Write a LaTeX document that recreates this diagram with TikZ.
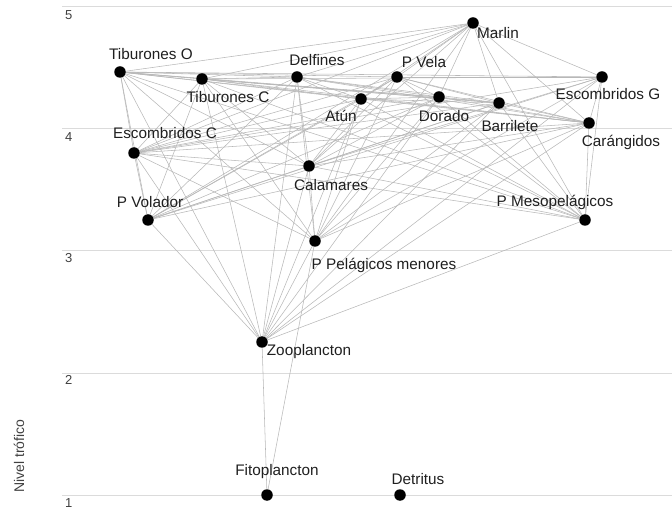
\documentclass[tikz,border=0pt]{standalone}
\usepackage{fontspec}
\setmainfont{Liberation Sans}
\usetikzlibrary{backgrounds}
\begin{document}
\begin{tikzpicture}[x=1pt,y=-1pt,
  dot/.style={circle,fill=black,inner sep=0pt,minimum size=11.5pt},
  lbl/.style={font=\fontsize{15.3}{18}\selectfont,text=black!88,inner sep=0pt},
  tick/.style={font=\fontsize{13}{15}\selectfont,text=black!75,inner sep=0pt,anchor=west},
  gridline/.style={draw=black!14,line width=0.8pt},
  link/.style={draw=black!28,line width=0.55pt}]
\useasboundingbox (0,0) rectangle (672,510);
% dots
\node[dot] (tibo) at (120,72) {};
\node[dot] (tibc) at (202,79) {};
\node[dot] (delf) at (297,77) {};
\node[dot] (marl) at (473,23) {};
\node[dot] (pvel) at (397,77) {};
\node[dot] (atun) at (361,99) {};
\node[dot] (dora) at (439,97) {};
\node[dot] (barr) at (499,103) {};
\node[dot] (escg) at (602,77) {};
\node[dot] (cara) at (589,123) {};
\node[dot] (escc) at (134,153) {};
\node[dot] (cala) at (309,166) {};
\node[dot] (pvol) at (148,220) {};
\node[dot] (pmes) at (585,220) {};
\node[dot] (ppel) at (315,241) {};
\node[dot] (zoo) at (262,342) {};
\node[dot] (fito) at (267,495) {};
\node[dot] (detr) at (400,495) {};
% labels
\node[lbl] (ltibo) at (151,54) {Tiburones O};
\node[lbl] (ltibc) at (228,97) {Tiburones C};
\node[lbl] (ldelf) at (317,60) {Delfines};
\node[lbl] (lmarl) at (498,33) {Marlin};
\node[lbl] (lpvel) at (424,62) {P Vela};
\node[lbl] (latun) at (341,116) {Atún};
\node[lbl] (ldora) at (444,116) {Dorado};
\node[lbl] (lbarr) at (510,126) {Barrilete};
\node[lbl] (lescg) at (608,94) {Escombridos G};
\node[lbl] (lcara) at (621,142) {Carángidos};
\node[lbl] (lescc) at (165,133) {Escombridos C};
\node[lbl] (lcala) at (331,185) {Calamares};
\node[lbl] (lpvol) at (150,202) {P Volador};
\node[lbl] (lpmes) at (555,202) {P Mesopelágicos};
\node[lbl] (lppel) at (384,265) {P Pelágicos menores};
\node[lbl] (lzoo) at (309,352) {Zooplancton};
\node[lbl] (lfito) at (277,472) {Fitoplancton};
\node[lbl] (ldetr) at (418,479) {Detritus};
% axis
\node[tick] (t5) at (65,15) {5};
\node[tick] (t4) at (65,137) {4};
\node[tick] (t3) at (65,258) {3};
\node[tick] (t2) at (65,380) {2};
\node[tick] (t1) at (65,503) {1};
\node[font=\fontsize{14}{16}\selectfont,text=black!75,rotate=90,inner sep=0pt] (ylab) at (19,456) {Nivel trófico};
\begin{scope}[on background layer]
\foreach \yy in {6,128,250,373,495} \draw[gridline] (62,\yy) -- (672,\yy);
\foreach \a/\b in {
 tibo/tibc,tibo/delf,tibo/pvel,tibo/atun,tibo/dora,tibo/barr,tibo/escg,tibo/cara,tibo/marl,tibo/escc,tibo/cala,tibo/pvol,tibo/ppel,tibo/pmes,tibo/zoo,
 tibc/delf,tibc/atun,tibc/dora,tibc/barr,tibc/escg,tibc/cara,tibc/escc,tibc/cala,tibc/pvol,tibc/ppel,tibc/pmes,tibc/zoo,
 delf/atun,delf/dora,delf/barr,delf/cara,delf/cala,delf/ppel,delf/pmes,delf/pvol,delf/escc,delf/zoo,
 marl/tibc,marl/delf,marl/pvel,marl/atun,marl/dora,marl/barr,marl/escg,marl/cara,marl/cala,marl/pvol,marl/escc,marl/ppel,marl/pmes,
 pvel/atun,pvel/dora,pvel/barr,pvel/escg,pvel/cara,pvel/cala,pvel/pvol,pvel/escc,pvel/ppel,pvel/pmes,
 atun/dora,atun/barr,atun/cara,atun/escc,atun/cala,atun/pvol,atun/ppel,atun/pmes,atun/zoo,
 dora/barr,dora/cara,dora/escc,dora/cala,dora/pvol,dora/ppel,dora/pmes,dora/zoo,
 barr/cara,barr/escc,barr/cala,barr/pvol,barr/ppel,barr/pmes,barr/zoo,
 escg/cara,escg/escc,escg/cala,escg/pvol,escg/ppel,escg/pmes,escg/zoo,
 cara/escc,cara/cala,cara/pvol,cara/ppel,cara/pmes,cara/zoo,
 escc/cala,escc/pvol,escc/ppel,escc/pmes,escc/zoo,
 cala/pvol,cala/ppel,cala/pmes,cala/zoo,
 pvol/zoo,ppel/zoo,ppel/fito,pmes/zoo,zoo/fito}
 \draw[link] (\a) -- (\b);
\end{scope}
\end{tikzpicture}
\end{document}
